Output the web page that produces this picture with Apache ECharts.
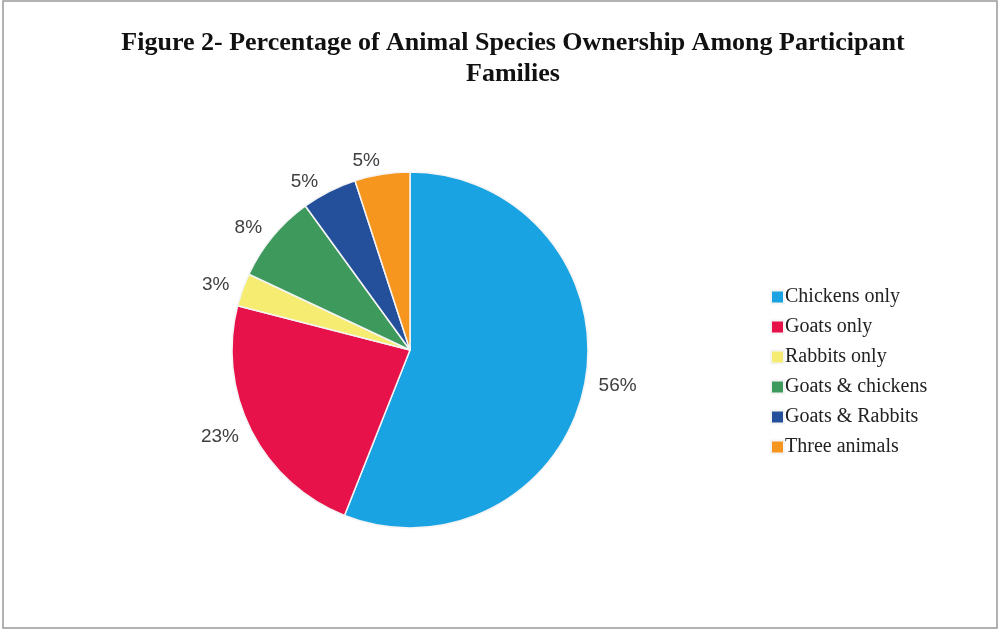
<!DOCTYPE html>
<html><head><meta charset="utf-8">
<script src="https://cdn.jsdelivr.net/npm/echarts@6/dist/echarts.min.js"></script>
<style>html,body{margin:0;padding:0;background:#fff}#c{width:1000px;height:633px}</style>
</head><body><div id="c"></div>
<script>
const categories = ['Chickens only','Goats only','Rabbits only','Goats & chickens','Goats & Rabbits','Three animals'];
const values = [56, 23, 3, 8, 5, 5];
const colors = ['#1aa3e2','#e8124a','#f6ec72','#3d9a5c','#24509b','#f7961f'];

const chart = echarts.init(document.getElementById('c'));
chart.setOption({
  backgroundColor: '#ffffff',
  animation: false,
  color: colors,
  title: {
    text: 'Figure 2- Percentage of Animal Species Ownership Among Participant\nFamilies',
    left: 508, top: 23, textAlign: 'center',
    textStyle: { fontFamily: 'Liberation Serif', fontWeight: 'bold', fontSize: 26, color: '#111', lineHeight: 31 }
  },
  legend: {
    orient: 'vertical', left: 765, top: 282,
    itemWidth: 13, itemHeight: 13, itemGap: 10, icon: 'rect',
    textStyle: { fontFamily: 'Liberation Serif', fontSize: 20, color: '#222', padding: [0,0,0,-4] },
    data: categories
  },
  graphic: [{ type: 'rect', shape: { x: 3, y: 1, width: 994, height: 627 }, style: { fill: 'none', stroke: '#999', lineWidth: 1.5 } }],
  series: [{
    type: 'pie', center: [410, 350], radius: 178, startAngle: 90, clockwise: true,
    data: categories.map((n, i) => ({ name: n, value: values[i] })),
    itemStyle: { borderColor: '#f4f4f4', borderWidth: 1.5 },
    label: { show: true, position: 'outside', formatter: '{c}%', fontFamily: 'Liberation Sans', fontSize: 19, color: '#404040', distanceToLabelLine: 0 },
    labelLine: { show: false, length: 14, length2: 0 },
    emphasis: { disabled: true }
  }]
});
</script></body></html>
